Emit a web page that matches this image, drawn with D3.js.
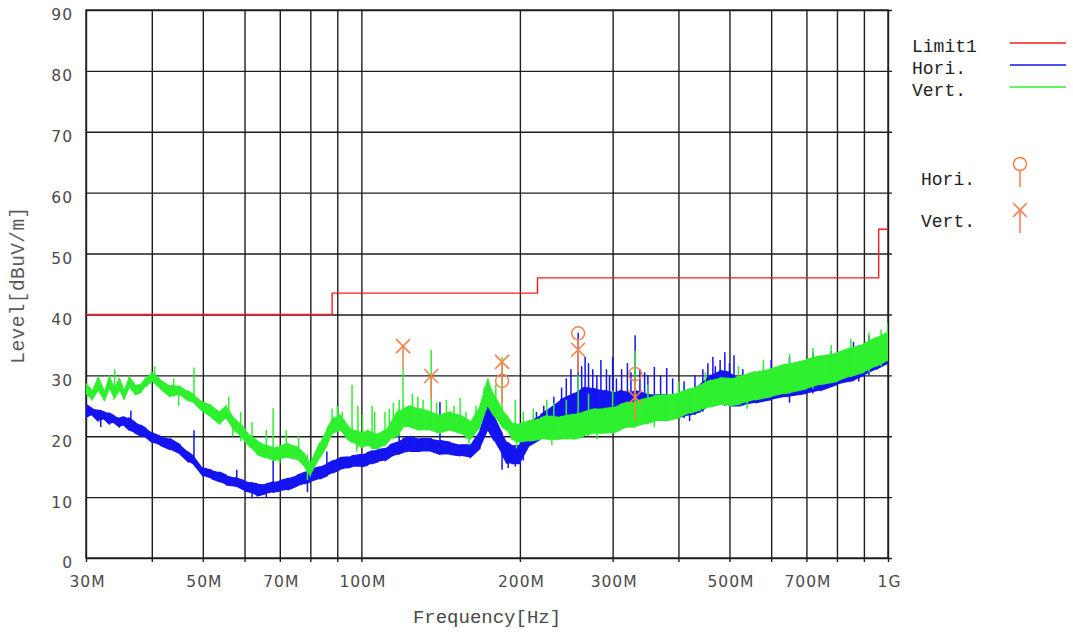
<!DOCTYPE html>
<html>
<head>
<meta charset="utf-8">
<script src="https://cdn.jsdelivr.net/npm/d3@7"></script>
<style>
body { margin: 0; background: #fff; }
</style>
</head>
<body>
<svg width="1073" height="635"></svg>
<script>
// grid / tick values
const gridFreqs = [30, 40, 50, 60, 70, 80, 90, 100, 200, 300, 400, 500, 600, 700, 800, 900, 1000];
const labelFreqs = [30, 50, 70, 100, 200, 300, 500, 700, 1000];
const labelTexts = ["30M", "50M", "70M", "100M", "200M", "300M", "500M", "700M", "1G"];
const levelTicks = [0, 10, 20, 30, 40, 50, 60, 70, 80, 90];

// Limit1 (MHz, dBuV/m)
const limitFreq = [30, 88, 88, 216, 216, 960, 960, 1000];
const limitLevel = [40, 40, 43.5, 43.5, 46, 46, 54, 54];

// scan traces, read as low/high envelope (MHz)
const freqs = [30, 30.8, 31.6, 32.5, 33.2, 33.9, 34.7, 35.4, 36.2, 37.2,
  38.2, 39, 40, 41.5, 43.3, 45.3, 46.9, 48.1, 50, 52,
  53.9, 55.4, 57.6, 60, 61.5, 63.4, 65.6, 68, 70, 72.6,
  75.5, 78.2, 80, 83.5, 86.1, 88.4, 91.1, 94, 96, 100,
  102.6, 104.8, 107.6, 110.9, 113.4, 116.9, 120, 123.8, 129.3, 135.7,
  141, 147.5, 154, 161, 168, 174, 178, 185, 189, 193,
  200, 209, 219, 225, 239, 253, 264, 278, 290, 300,
  310, 321, 331, 346, 361, 378, 400, 421, 440, 460,
  480, 500, 524, 560, 600, 638, 700, 744, 800, 848,
  900, 950, 1000];

const horiLo = [23.0, 23.5, 22.5, 22.8, 22.0, 22.2, 21.5, 21.8, 21.0, 20.5,
  20.0, 19.8, 19.0, 18.5, 17.8, 17.0, 15.8, 15.3, 13.5, 13.0,
  12.5, 12.0, 11.8, 11.0, 10.8, 10.2, 10.5, 10.8, 11.0, 11.2,
  11.8, 12.2, 12.5, 13.0, 13.5, 14.0, 14.5, 14.8, 15.0, 15.0,
  15.2, 15.5, 15.8, 16.0, 16.5, 17.0, 17.3, 17.5, 17.5, 17.5,
  17.0, 17.0, 16.8, 16.5, 18.0, 21.0, 19.5, 17.0, 15.5, 15.5,
  15.5, 18.5, 19.5, 20.5, 22.0, 22.5, 23.5, 23.5, 23.5, 23.5,
  23.5, 23.0, 23.0, 23.0, 23.0, 23.0, 23.0, 23.5, 24.0, 25.0,
  25.5, 25.0, 25.0, 25.5, 26.0, 26.5, 27.0, 27.5, 28.5, 29.0,
  30.0, 31.0, 32.0];
const horiHi = [25.2, 24.6, 24.3, 24.0, 23.8, 23.4, 23.0, 23.2, 23.0, 22.3,
  21.8, 21.3, 20.6, 20.0, 19.6, 18.6, 17.4, 16.7, 14.8, 14.4,
  14.1, 13.6, 13.2, 12.7, 12.4, 12.2, 12.1, 12.5, 12.7, 13.1,
  13.6, 14.1, 14.6, 15.0, 15.5, 16.0, 16.5, 16.6, 16.8, 17.0,
  17.3, 17.6, 17.8, 18.0, 18.6, 19.0, 19.6, 20.0, 19.6, 19.6,
  19.3, 19.0, 18.6, 18.6, 21.0, 25.0, 23.5, 20.5, 19.0, 18.5,
  18.6, 22.5, 23.5, 24.3, 26.0, 27.0, 28.0, 27.8, 27.5, 27.2,
  27.5, 27.2, 27.5, 27.0, 26.8, 26.8, 26.6, 27.5, 28.5, 30.0,
  30.8, 30.5, 29.3, 29.8, 30.6, 31.2, 32.2, 32.8, 33.6, 34.3,
  35.0, 35.8, 36.8];

const vertLo = [26.8, 26.0, 27.5, 25.8, 27.8, 26.2, 27.5, 26.0, 28.0, 26.8,
  27.2, 28.2, 29.0, 27.8, 26.5, 26.8, 25.8, 25.5, 24.0, 23.0,
  22.0, 23.0, 20.8, 19.2, 18.2, 17.0, 16.5, 16.0, 16.2, 16.5,
  16.2, 14.8, 13.5, 16.5, 18.5, 20.5, 21.0, 19.5, 19.0, 18.2,
  18.5, 18.0, 18.0, 18.5, 19.5, 20.0, 21.5, 21.5, 21.0, 21.0,
  20.5, 21.0, 20.5, 19.5, 21.5, 25.0, 23.5, 21.5, 21.0, 19.5,
  19.0, 19.2, 19.5, 19.5, 19.5, 19.5, 20.0, 20.5, 20.5, 20.5,
  21.0, 21.5, 21.5, 22.0, 22.5, 22.5, 23.0, 23.8, 24.3, 24.8,
  25.2, 25.0, 25.3, 26.0, 26.5, 27.0, 27.8, 28.5, 29.0, 29.8,
  30.5, 31.5, 32.5];
const vertHi = [28.6, 27.5, 29.8, 27.4, 30.0, 27.9, 29.6, 27.6, 29.8, 28.4,
  28.6, 29.6, 30.5, 29.3, 28.3, 28.2, 27.4, 26.8, 25.6, 25.0,
  24.0, 25.0, 22.8, 21.3, 20.1, 19.3, 18.6, 18.1, 18.4, 18.8,
  18.3, 17.0, 15.6, 19.0, 21.3, 23.0, 23.5, 21.9, 21.1, 20.6,
  21.0, 20.6, 20.4, 21.0, 22.0, 24.0, 24.5, 25.0, 24.5, 24.0,
  23.5, 24.0, 23.5, 22.4, 25.0, 29.5, 27.0, 24.5, 23.4, 22.2,
  22.0, 22.6, 23.0, 23.4, 23.2, 23.6, 24.0, 24.5, 24.6, 24.7,
  25.2, 25.6, 25.7, 26.2, 26.7, 26.8, 27.1, 27.8, 28.4, 29.2,
  29.6, 29.5, 29.8, 30.6, 31.1, 31.8, 32.6, 33.2, 33.7, 34.5,
  35.2, 36.2, 37.2];

// narrow spikes above the envelope
const horiSpikeFreq = [36.5, 48.1, 58, 68, 86, 118, 141, 172, 215, 222, 232, 240, 245, 250, 258, 262,
  266, 270, 275, 280, 285, 292, 296, 300, 305, 312, 320, 325, 331, 338, 345, 350, 360, 370, 380,
  390, 410, 430, 445, 455, 465, 470, 480, 490, 500, 510, 530, 600, 650, 720, 780, 860, 920];
const horiSpikeTop = [24.2, 21, 14.5, 16.1, 17.5, 21, 25.6, 26.5, 24, 25, 26.5, 28, 29.5, 31, 37, 31.5,
  33, 32, 31, 30, 32.5, 31, 30, 33, 29.5, 31, 32, 30.5, 36.6, 31, 30.5, 30, 31.4, 30, 31.2,
  29.5, 29, 30, 31, 32, 33, 31.5, 32.5, 33.8, 32, 33.3, 31, 32.5, 33, 33.8, 34, 35.5, 36.5];
const vertSpikeFreq = [34, 40.5, 44, 48.1, 56, 59, 62, 66, 68, 72, 76, 88, 90, 92, 96, 98.5,
  100.5, 104.8, 106, 110.9, 113, 115, 118, 120, 125, 128, 131, 135.7, 139, 145, 150, 154, 158,
  165, 171, 180, 185, 196, 203, 212, 225, 232, 245, 258, 270, 300, 331, 350, 400, 450, 520,
  580, 650, 720, 780, 850, 920, 970, 1000];
const vertSpikeTop = [31, 31.5, 29.5, 31.3, 26.5, 24, 22.3, 21, 24.6, 21, 20, 24.5, 25, 24, 28.4, 25,
  23.5, 25, 24, 24, 24.5, 25.5, 26, 31, 27, 26.5, 26, 34.2, 25.5, 26, 25, 26.3, 24,
  25, 28, 28.5, 33, 26, 24, 24.5, 26, 25.5, 26, 30, 27, 27.5, 34, 28.5, 29, 30.5, 31.5,
  32.5, 33.5, 34.5, 35, 36, 37, 37.5, 38.6];

// dips below the envelope
const horiDipFreq = [32, 62, 66, 79, 185, 190, 196, 203, 290, 420, 650, 880];
const horiDipBottom = [21.5, 9.8, 9.9, 10.8, 14.5, 14.8, 15, 16, 21.5, 22.5, 25.5, 29];
const vertDipFreq = [45, 57, 70, 79, 98, 160, 197, 230, 280, 360, 540];
const vertDipBottom = [25, 20, 15.5, 12.8, 17.5, 18.5, 18.0, 18.5, 19.5, 21.5, 24.5];

// final measurement markers
const horiPeakFreq = [185, 258, 331];
const horiPeakLevel = [29.1, 36.9, 30.2];
const vertPeakFreq = [120, 135.7, 185, 258, 331];
const vertPeakLevel = [34.8, 29.9, 32.2, 34.2, 26.4];

const legendNames = ["Limit1", "Hori.", "Vert."];

const RED = "#ff1a1a", BLUE = "#1414f0", GREEN = "#2ef02e", MARK = "#f5824f";
const mono = "'Liberation Mono', 'DejaVu Sans Mono', monospace";

const svg = d3.select("svg");
svg.append("rect").attr("width", 1073).attr("height", 635).attr("fill", "#fff");

const x = d3.scaleLog().domain([30, 1000]).range([86, 888]);
const y = d3.scaleLinear().domain([0, 90]).range([558, 10]);

// grid via axes
const gx = svg.append("g").attr("transform", "translate(0,10)")
  .call(d3.axisBottom(x).tickValues(gridFreqs).tickSize(552).tickFormat(""));
const gy = svg.append("g").attr("transform", "translate(86,0)")
  .call(d3.axisRight(y).tickValues(levelTicks).tickSize(806).tickFormat(""));
[gx, gy].forEach(g => {
  g.select(".domain").remove();
  g.selectAll("line").attr("stroke", "#1e1e1e").attr("stroke-width", 1.4);
});
svg.append("rect")
  .attr("x", 86).attr("y", 10).attr("width", 802).attr("height", 548)
  .attr("fill", "none").attr("stroke", "#1e1e1e").attr("stroke-width", 1.4);

// tick labels
const lx = svg.append("g").attr("transform", "translate(1,558)")
  .call(d3.axisBottom(x).tickValues(labelFreqs).tickSize(0).tickPadding(18)
    .tickFormat((d, i) => labelTexts[i]));
const ly = svg.append("g").attr("transform", "translate(86,5)")
  .call(d3.axisLeft(y).tickValues(levelTicks).tickSize(0).tickPadding(13));
[lx, ly].forEach(g => {
  g.select(".domain").remove();
  g.selectAll("text").attr("fill", "#4a4a4a")
    .style("font-family", "'DejaVu Sans', Verdana, sans-serif")
    .style("font-size", "15.5px").style("letter-spacing", "1px");
});

// axis titles
svg.append("text").attr("x", 487).attr("y", 623).attr("text-anchor", "middle")
  .attr("fill", "#4a4a4a").style("font-family", mono).style("font-size", "19px")
  .text("Frequency[Hz]");
svg.append("text").attr("transform", "translate(24,285) rotate(-90)")
  .attr("text-anchor", "middle").attr("fill", "#5a5a5a")
  .style("font-family", mono).style("font-size", "19.5px").style("letter-spacing", "0.4px")
  .text("Level[dBuV/m]");

// traces
svg.append("clipPath").attr("id", "plot").append("rect")
  .attr("x", 86).attr("y", 10).attr("width", 802).attr("height", 548);
const plot = svg.append("g").attr("clip-path", "url(#plot)");

function drawTrace(lo, hi, spF, spT, dpF, dpB, color) {
  const rows = freqs.map((f, i) => ({ f, lo: lo[i], hi: hi[i] }));
  plot.append("path").datum(rows)
    .attr("fill", color)
    .attr("d", d3.area().x(d => x(d.f)).y0(d => y(d.lo)).y1(d => y(d.hi)));
  const zig = [];
  rows.forEach((d, i) => {
    if (i % 2) { zig.push([d.f, d.hi]); zig.push([d.f, d.lo]); }
    else { zig.push([d.f, d.lo]); zig.push([d.f, d.hi]); }
  });
  plot.append("path").datum(zig)
    .attr("fill", "none").attr("stroke", color).attr("stroke-width", 1.2)
    .attr("d", d3.line().x(d => x(d[0])).y(d => y(d[1])));
  const bis = d3.bisector(d => d).center;
  plot.selectAll(null).data(spF).join("line")
    .attr("x1", d => x(d)).attr("x2", d => x(d))
    .attr("y1", (d, i) => y(spT[i]))
    .attr("y2", d => y(lo[bis(freqs, d)]))
    .attr("stroke", color).attr("stroke-width", 1.5);
  plot.selectAll(null).data(dpF).join("line")
    .attr("x1", d => x(d)).attr("x2", d => x(d))
    .attr("y1", (d, i) => y(dpB[i]))
    .attr("y2", d => y(hi[bis(freqs, d)]))
    .attr("stroke", color).attr("stroke-width", 1.5);
}
drawTrace(horiLo, horiHi, horiSpikeFreq, horiSpikeTop, horiDipFreq, horiDipBottom, BLUE);
drawTrace(vertLo, vertHi, vertSpikeFreq, vertSpikeTop, vertDipFreq, vertDipBottom, GREEN);

// limit line
plot.append("path")
  .datum(limitFreq.map((f, i) => [f, limitLevel[i]]))
  .attr("fill", "none").attr("stroke", RED).attr("stroke-width", 1.4)
  .attr("d", d3.line().x(d => x(d[0])).y(d => y(d[1])));

// markers
const STEM = 23;
function circleMark(g, cx, cy) {
  g.append("line").attr("x1", cx).attr("x2", cx).attr("y1", cy + 6.5).attr("y2", cy + STEM)
    .attr("stroke", MARK).attr("stroke-width", 1.6);
  g.append("circle").attr("cx", cx).attr("cy", cy).attr("r", 6.5)
    .attr("fill", "none").attr("stroke", MARK).attr("stroke-width", 1.5);
}
function crossMark(g, cx, cy) {
  g.append("line").attr("x1", cx).attr("x2", cx).attr("y1", cy).attr("y2", cy + STEM)
    .attr("stroke", MARK).attr("stroke-width", 1.6);
  g.append("path").attr("d", `M${cx - 7},${cy - 7}L${cx + 7},${cy + 7}M${cx - 7},${cy + 7}L${cx + 7},${cy - 7}`)
    .attr("stroke", MARK).attr("stroke-width", 1.6).attr("fill", "none");
}
const marks = svg.append("g");
vertPeakFreq.forEach((f, i) => crossMark(marks, x(f), y(vertPeakLevel[i])));
horiPeakFreq.forEach((f, i) => circleMark(marks, x(f), y(horiPeakLevel[i])));

// legend
const legColors = [RED, BLUE, GREEN];
const leg = svg.append("g");
legendNames.forEach((n, i) => {
  const yy = 43 + i * 22;
  leg.append("text").attr("x", 912).attr("y", yy + 9).attr("fill", "#222")
    .style("font-family", mono).style("font-size", "18px").text(n);
  leg.append("line").attr("x1", 1010).attr("x2", 1066).attr("y1", yy).attr("y2", yy)
    .attr("stroke", legColors[i]).attr("stroke-width", 1.6);
});
leg.append("text").attr("x", 921).attr("y", 185).attr("fill", "#222")
  .style("font-family", mono).style("font-size", "18px").text("Hori.");
circleMark(leg, 1020, 164);
leg.append("text").attr("x", 921).attr("y", 227).attr("fill", "#222")
  .style("font-family", mono).style("font-size", "18px").text("Vert.");
crossMark(leg, 1020, 210);
</script>
</body>
</html>
